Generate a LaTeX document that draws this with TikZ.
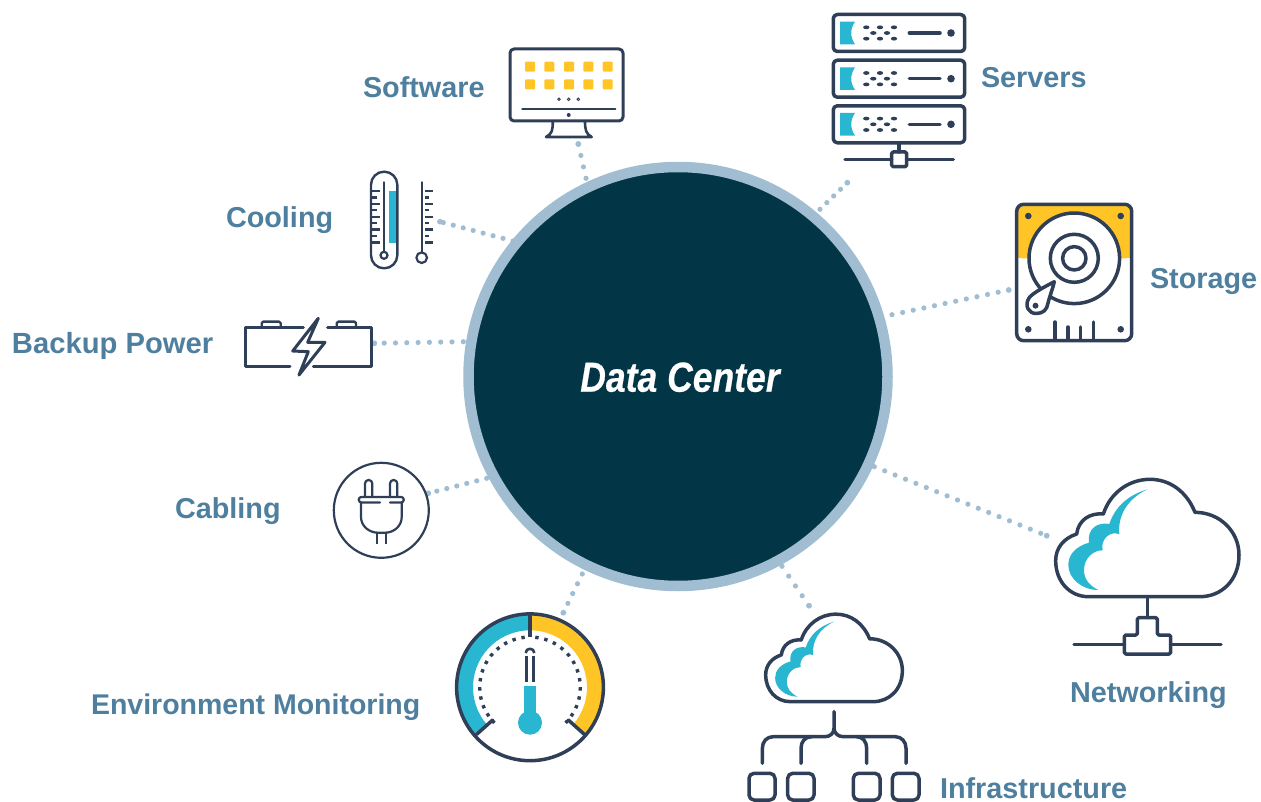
\documentclass[tikz,border=0pt]{standalone}
\usepackage{fontspec}
\setmainfont{Liberation Sans}
\newfontfamily\corefont[FakeBold=0.5]{Liberation Sans Bold Italic}
\definecolor{corefill}{HTML}{023646}
\definecolor{ringblue}{HTML}{A0BDD2}
\definecolor{ink}{HTML}{2F3F58}
\definecolor{tealfill}{HTML}{29B6D0}
\definecolor{sunfill}{HTML}{FFC425}
\definecolor{labelblue}{HTML}{4F7F9E}
\tikzset{
  icon/.style={draw=ink,line width=3.5pt,line join=round,line cap=round},
  thin icon/.style={draw=ink,line width=2.2pt,line join=round,line cap=round},
  link/.style={draw=ringblue,line width=5.2pt,line cap=round,dash pattern=on 0pt off #1},
  link/.default=10.5pt,
  linkend/.style={fill=ringblue},
  lbl/.style={anchor=base west,inner sep=0pt,outer sep=0pt,text=labelblue,font=\fontsize{28.8}{32}\selectfont\bfseries},
}
\newcommand{\cloudicon}{%
  \fill[tealfill] (322,58) .. controls (265,75) and (225,110) .. (208,162) .. controls (175,155) and (140,175) .. (147,218) .. controls (105,230) and (85,255) .. (85,285) .. controls (85,325) and (125,360) .. (175,360) .. controls (145,345) and (132,325) .. (132,300) .. controls (132,265) and (160,240) .. (188,241) .. controls (180,210) and (210,180) .. (238,193) .. controls (232,135) and (265,85) .. (322,58) -- cycle;
  \draw[icon] (145,380) -- (480,380) .. controls (545,380) and (597,330) .. (597,255) .. controls (597,185) and (540,127) .. (465,127) .. controls (440,65) and (390,28) .. (330,28) .. controls (265,28) and (210,70) .. (190,132) .. controls (150,128) and (115,150) .. (110,192) .. controls (70,205) and (47,235) .. (47,272) .. controls (47,335) and (90,380) .. (145,380) -- cycle;
}
\newcommand{\serverbox}[1]{%
  \begin{scope}[shift={(0,#1)}]
  \fill[tealfill] (840,-11.3) -- (855,-11.3) .. controls (850,-4) and (850,4) .. (855,11.3) -- (840,11.3) -- cycle;
  \draw[icon,rounded corners=4pt] (833.3,-18.5) rectangle (964.7,18.5);
  \foreach \dx/\dy in {866.3/-5.7,880/-5.7,894/-5.7,873.3/0,887/0,866.3/5.7,880/5.7,894/5.7}
    \fill[ink] (\dx,\dy) ellipse (3.2 and 1.9);
  \draw[icon] (909.3,0) -- (940,0);
  \fill[ink] (951,0) circle (3.8);
  \end{scope}}
\begin{document}
\begin{tikzpicture}[x=1pt,y=1pt,yscale=-1]
\useasboundingbox (0,0) rectangle (1261,802);
% connector ends
\coordinate (swIcon) at (578.3,144);   \coordinate (swCore) at (586,178.3);
\coordinate (srvIcon) at (847.3,182.7); \coordinate (srvCore) at (820,209.3);
\coordinate (stoIcon) at (1008.7,290); \coordinate (stoCore) at (892,314.7);
\coordinate (coolIcon) at (440,221.7); \coordinate (coolCore) at (513,241);
\coordinate (batIcon) at (374.3,343.3); \coordinate (batCore) at (463.3,341.7);
\coordinate (cabIcon) at (428.3,493.3); \coordinate (cabCore) at (486.7,478.3);
\coordinate (envIcon) at (563.3,612.7); \coordinate (envCore) at (582.3,574);
\coordinate (infIcon) at (809,605.7);  \coordinate (infCore) at (782,566.3);
\coordinate (netIcon) at (1046.7,535.7); \coordinate (netCore) at (874.3,466.7);
\foreach \lkA/\lkB/\lkS in {swCore/swIcon/11.7pt,srvCore/srvIcon/9.55pt,stoCore/stoIcon/10.85pt,coolCore/coolIcon/10.3pt,batCore/batIcon/11.3pt,cabCore/cabIcon/10.3pt,envCore/envIcon/10.9pt,infCore/infIcon/11.9pt,netCore/netIcon/11.2pt} {
  \draw[link=\lkS] (\lkA) -- (\lkB);
  \fill[linkend] (\lkB) circle (2.9);
}
% core
\node[circle,minimum size=419pt,inner sep=0pt,line width=10.5pt,draw=ringblue,fill=corefill] (core) at (678,376.5) {};
\node[anchor=base,inner sep=0pt,text=white] (corelabel) at (680,391.7)
  {\scalebox{.846}[1]{\fontsize{42}{46}\selectfont\corefont Data Center}};
% labels
\node[lbl] (lsw) at (363,97.7) {Software};
\node[lbl] (lcool) at (226,227.7) {Cooling};
\node[lbl,font=\fontsize{29.2}{32}\selectfont\bfseries] (lbat) at (12,353) {Backup Power};
\node[lbl] (lcab) at (175,518) {Cabling};
\node[lbl,font=\fontsize{28.5}{32}\selectfont\bfseries] (lenv) at (91,714) {Environment Monitoring};
\node[lbl] (lsrv) at (981,87.7) {Servers};
\node[lbl] (lsto) at (1150,288.7) {Storage};
\node[lbl] (lnet) at (1070,702) {Networking};
\node[lbl] (linf) at (940,798) {Infrastructure};
% software monitor
\draw[icon,line width=3pt,rounded corners=4pt] (510,49) rectangle (623,121);
\foreach \sx in {530,549.3,569,588.3,607.7} \foreach \sy in {66.7,84.3}
  \fill[sunfill,rounded corners=1pt] (\sx-5,\sy-5) rectangle (\sx+5,\sy+5);
\foreach \sx in {559,568.7,578.3} \draw[ink,line width=.9pt] (\sx,99.3) circle (1.3);
\draw[icon,line width=2.2pt] (522.3,109.3) -- (615.3,109.3);
\fill[ink] (568.7,115) circle (2);
\draw[icon,line width=2.6pt] (552.7,121) .. controls (553,130) and (552,134) .. (546,137) -- (591.7,137) .. controls (586,134) and (585,130) .. (585,121);
% servers
\serverbox{33}
\serverbox{78.7}
\serverbox{124.3}
\draw[icon] (899,142.7) -- (899,152);
\draw[icon] (845,159.3) -- (891.7,159.3) (906.7,159.3) -- (953.3,159.3);
\draw[icon,rounded corners=1.5pt] (891.7,152) rectangle (906.7,166.7);
% storage
\fill[sunfill,rounded corners=6pt] (1016.7,258.3) -- (1016.7,204.3) -- (1131.7,204.3) -- (1131.7,258.3) -- cycle;
\fill[sunfill] (1016.7,240) rectangle (1131.7,258.3);
\draw[icon,rounded corners=7pt] (1016.7,204.3) rectangle (1131.7,340.7);
\draw[icon,fill=white] (1074.3,258.3) circle (45.3);
\draw[icon] (1074.3,258.3) circle (24);
\draw[icon] (1074.3,258.3) circle (11.7);
\foreach \sx/\sy in {1028.3/216,1120.7/216,1028.3/329.3,1120.7/329.3} \fill[ink] (\sx,\sy) circle (3.3);
\draw[icon,fill=white] (1054.3,281.7) .. controls (1050,284) and (1032,293) .. (1029,298) .. controls (1024,306) and (1029,313.5) .. (1036,313.5) .. controls (1043,313.5) and (1047,310) .. (1048,303) .. controls (1050,295) and (1053,288) .. (1054.3,281.7) -- cycle;
\fill[ink] (1035.5,305.7) circle (3);
\draw[icon] (1055,322) -- (1055,340) (1068,327) -- (1068,340) (1080.7,327) -- (1080.7,340) (1093.7,322) -- (1093.7,340);
% thermometers
\fill[tealfill] (389,191) rectangle (396.3,242.7);
\draw[thin icon,line width=2.4pt,rounded corners=13pt] (371,171.7) rectangle (397.3,268.3);
\draw[thin icon] (384,182.3) -- (384,251.7);
\draw[thin icon] (384,255.3) circle (3.5);
\foreach \i in {0,...,8} {
  \pgfmathsetmacro{\ty}{191+\i*6.43}
  \pgfmathsetmacro{\ta}{mod(\i,2)==0 ? 379.5 : 376.5}
  \draw[thin icon,line cap=butt] (372,\ty) -- (\ta,\ty);
  \pgfmathsetmacro{\tb}{mod(\i,2)==0 ? 432.5 : 429}
  \draw[thin icon,line cap=butt] (425,\ty) -- (\tb,\ty);
}
\draw[thin icon] (421.7,182.3) -- (421.7,252.3);
\draw[thin icon] (421.7,257.7) circle (5.3);
% battery
\draw[icon,line width=3pt] (303.3,327.7) -- (245.3,327.7) -- (245.3,366) -- (290,366);
\draw[icon,line width=3pt] (327.7,327.7) -- (371.7,327.7) -- (371.7,366) -- (313.3,366);
\draw[icon,line width=2.4pt,rounded corners=1.5pt] (261.7,327.7) -- (261.7,321.7) -- (280.7,321.7) -- (280.7,327.7);
\draw[icon,line width=2.4pt,rounded corners=1.5pt] (336.7,327.7) -- (336.7,321.7) -- (356,321.7) -- (356,327.7);
\draw[icon,line width=3pt] (318.3,318.3) -- (292.7,351) -- (308.3,351.7) -- (299,375) -- (325,342.3) -- (307.7,342.3) -- cycle;
% plug
\draw[thin icon] (381.3,510.3) circle (47.5);
\draw[thin icon,rounded corners=3.5pt] (365,497) -- (365,480) -- (372.3,480) -- (372.3,497);
\draw[thin icon,rounded corners=3.5pt] (390,497) -- (390,480) -- (397.3,480) -- (397.3,497);
\draw[thin icon] (380,502.5) -- (361.5,502.5) arc (90:270:2.8) -- (401,496.9) arc (-90:90:2.8) -- (390,502.5);
\draw[thin icon] (361,503) -- (361,517) .. controls (361,526) and (369,532.7) .. (378,532.7) -- (385,532.7) .. controls (394,532.7) and (401.7,526) .. (401.7,517) -- (401.7,503);
\draw[thin icon,line cap=butt] (376.7,532.7) -- (376.7,544) (385.7,532.7) -- (385.7,544);
% gauge
\begin{scope}[shift={(530,687.3)}]
\fill[tealfill] (270:72.5) arc (270:139:72.5) -- (139:57) arc (139:270:57) -- cycle;
\fill[sunfill] (-90:72.5) arc (-90:41:72.5) -- (41:57) arc (41:-90:57) -- cycle;
\draw[icon] (0,0) circle (73.4);
\draw[icon,line cap=butt] (0,-73) -- (0,-50);
\draw[ink,line width=3.4pt,dash pattern=on 3.4pt off 5.8pt] (-96:50.3) arc (-96:-225:50.3);
\draw[ink,line width=3.4pt,dash pattern=on 3.4pt off 5.8pt] (-84:50.3) arc (-84:45:50.3);
\end{scope}
\draw[icon] (476.7,734.3) -- (492.7,720);
\draw[icon] (584.3,734.3) -- (568.3,720);
\fill[tealfill] (524.3,686) rectangle (536,717);
\fill[tealfill] (530,722.7) circle (12);
\draw[thin icon,line width=2.6pt,line cap=butt] (526.3,656) -- (526.3,681.7) (533.7,656) -- (533.7,681.7);
\draw[thin icon,line width=2.6pt,line cap=butt] (525.7,653) arc (180:360:4.3);
% infrastructure
\begin{scope}[shift={(754,607.2)},scale=.2485]
\cloudicon
\end{scope}
\begin{scope}[shift={(740,600)},scale=1/3]
\draw[icon] (282,335) -- (282,385) .. controls (282,400) and (270,410) .. (255,410) -- (100,410) .. controls (80,410) and (67,425) .. (67,445) -- (67,490);
\draw[icon] (282,385) .. controls (282,400) and (295,410) .. (310,410) -- (465,410) .. controls (485,410) and (498,425) .. (498,445) -- (498,490);
\draw[icon] (215,410) .. controls (195,410) and (183,425) .. (183,445) -- (183,490);
\draw[icon] (350,410) .. controls (368,410) and (380,425) .. (380,445) -- (380,490);
\foreach \bx/\bw in {27/105,143/222,340/420,457/537}
  \draw[icon,rounded corners=5pt] (\bx,520) rectangle (\bw,600);
\end{scope}
% networking
\begin{scope}[shift={(1040,470)},scale=1/3]
\cloudicon
\draw[icon] (322,380) -- (322,443);
\draw[icon,rounded corners=1.5pt] (292,443) -- (352,443) -- (352,495) -- (392,495) -- (392,552) -- (253,552) -- (253,495) -- (292,495) -- cycle;
\draw[icon] (102,523) -- (253,523) (392,523) -- (543,523);
\end{scope}
\end{tikzpicture}
\end{document}
